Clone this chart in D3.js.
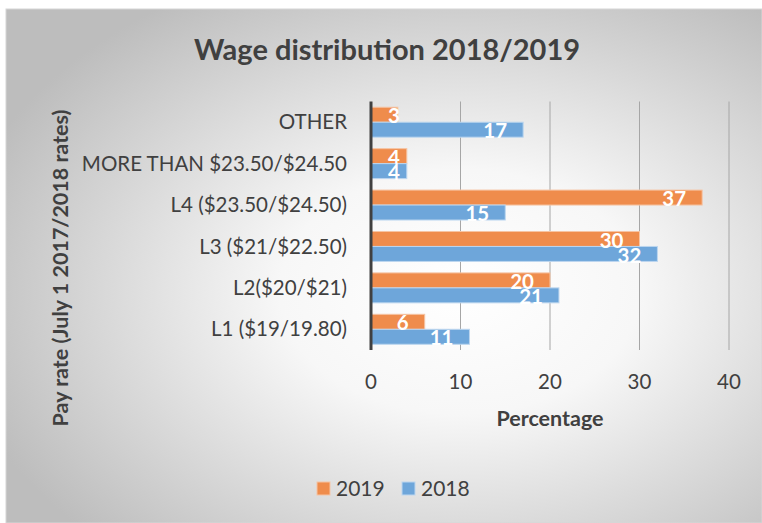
<!DOCTYPE html>
<html>
<head>
<meta charset="utf-8">
<script src="https://cdn.jsdelivr.net/npm/d3@7"></script>
<style>
  body { margin: 0; background: #fff; }
  svg { display: block; font-family: Lato, "Open Sans", sans-serif; }
</style>
</head>
<body>
<svg class="svg1" width="762" height="523"></svg>
<script>
var categories = ["OTHER", "MORE THAN $23.50/$24.50", "L4 ($23.50/$24.50)",
                  "L3 ($21/$22.50)", "L2($20/$21)", "L1 ($19/19.80)"];
var seriesNames = ["2019", "2018"];
var values2019 = [3, 4, 37, 30, 20, 6];
var values2018 = [17, 4, 15, 32, 21, 11];
var xTicks = [0, 10, 20, 30, 40];

var COLORS = { "2019": "#ef8c4c", "2018": "#6ea6da" };
var EDGES = { "2019": "#f6c4a3", "2018": "#bcd6ef" };

var svg1 = d3.select(".svg1");

// background with soft radial gradient
var defs = svg1.append("defs");
var grad = defs.append("radialGradient")
    .attr("id", "bg")
    .attr("cx", "60%").attr("cy", "55%").attr("r", "68%");
grad.append("stop").attr("offset", "0%").attr("stop-color", "#ffffff");
grad.append("stop").attr("offset", "35%").attr("stop-color", "#f7f7f7");
grad.append("stop").attr("offset", "100%").attr("stop-color", "#bdbdbd");

svg1.append("rect")
    .attr("x", 6).attr("y", 9)
    .attr("width", 756).attr("height", 514)
    .attr("fill", "url(#bg)")
    .attr("stroke", "#d6d6d6");

var scaleX = d3.scaleLinear().domain([0, 40]).range([371, 729]);
var scaleY = d3.scaleBand()
    .domain(categories)
    .range([101.5, 350])
    .paddingInner(0.277)
    .paddingOuter(0.1385);
var scaleSeries = d3.scaleBand()
    .domain(seriesNames)
    .range([0, scaleY.bandwidth()]);

// gridlines
svg1.append("g")
    .selectAll("line")
    .data(xTicks.slice(1))
    .enter()
    .append("line")
    .attr("x1", function(d) { return scaleX(d); })
    .attr("x2", function(d) { return scaleX(d); })
    .attr("y1", 101.5)
    .attr("y2", 350)
    .attr("stroke", "#a6a6a6")
    .attr("stroke-width", 1);

// tick labels
svg1.append("g")
    .selectAll("text")
    .data(xTicks)
    .enter()
    .append("text")
    .attr("x", function(d) { return scaleX(d); })
    .attr("y", 382)
    .attr("dy", "0.35em")
    .attr("text-anchor", "middle")
    .attr("fill", "#404040")
    .style("font-size", "20.5px")
    .text(function(d) { return d; });

// category labels
svg1.append("g")
    .selectAll("text")
    .data(categories)
    .enter()
    .append("text")
    .attr("x", 347)
    .attr("y", function(d) { return scaleY(d) + scaleY.bandwidth() / 2; })
    .attr("dy", "0.35em")
    .attr("text-anchor", "end")
    .attr("fill", "#404040")
    .style("font-size", "20.5px")
    .text(function(d) { return d; });

var rows = [];
categories.forEach(function(c, i) {
    rows.push({ cat: c, series: "2019", value: values2019[i] });
    rows.push({ cat: c, series: "2018", value: values2018[i] });
});

var bars = svg1.append("g");
bars.selectAll("rect")
    .data(rows)
    .enter()
    .append("rect")
    .attr("x", scaleX(0))
    .attr("y", function(d) { return scaleY(d.cat) + scaleSeries(d.series); })
    .attr("width", function(d) { return scaleX(d.value) - scaleX(0); })
    .attr("height", scaleSeries.bandwidth())
    .attr("fill", function(d) { return COLORS[d.series]; })
    .attr("stroke", function(d) { return EDGES[d.series]; })
    .attr("stroke-width", 1);

// value labels, inside end
bars.selectAll("text")
    .data(rows)
    .enter()
    .append("text")
    .attr("y", function(d) { return scaleY(d.cat) + scaleSeries(d.series) + scaleSeries.bandwidth() / 2 + 1.5; })
    .attr("dy", "0.35em")
    .attr("text-anchor", "end")
    .attr("fill", "#ffffff")
    .style("font-size", "20.5px")
    .style("font-weight", "bold")
    .text(function(d) { return d.value; })
    .attr("x", function(d) {
        var w = this.getComputedTextLength();
        return Math.max(scaleX(d.value) - 16, scaleX(0) + 17 + w);
    });

// axis line
svg1.append("line")
    .attr("x1", scaleX(0)).attr("x2", scaleX(0))
    .attr("y1", 101.5).attr("y2", 350)
    .attr("stroke", "#404040")
    .attr("stroke-width", 3);

// title
svg1.append("text")
    .attr("x", 387)
    .attr("y", 60)
    .attr("text-anchor", "middle")
    .attr("fill", "#404040")
    .style("font-size", "29px")
    .style("font-weight", "bold")
    .text("Wage distribution 2018/2019");

// axis titles
svg1.append("text")
    .attr("x", 550)
    .attr("y", 418)
    .attr("dy", "0.35em")
    .attr("text-anchor", "middle")
    .attr("fill", "#404040")
    .style("font-size", "21.5px")
    .style("font-weight", "bold")
    .text("Percentage");

svg1.append("text")
    .attr("transform", "translate(60,268) rotate(-90)")
    .attr("dy", "0.35em")
    .attr("text-anchor", "middle")
    .attr("fill", "#404040")
    .style("font-size", "21.5px")
    .style("font-weight", "bold")
    .text("Pay rate (July 1 2017/2018 rates)");

// legend
var legend = svg1.append("g")
    .selectAll("g")
    .data(seriesNames)
    .enter()
    .append("g")
    .attr("transform", function(d, i) { return "translate(" + (317 + i * 85) + ",482)"; });

legend.append("rect")
    .attr("width", 13).attr("height", 13)
    .attr("fill", function(d) { return COLORS[d]; })
    .attr("stroke", function(d) { return EDGES[d]; });

legend.append("text")
    .attr("x", 19)
    .attr("y", 7)
    .attr("dy", "0.35em")
    .attr("fill", "#404040")
    .style("font-size", "21px")
    .text(function(d) { return d; });
</script>
</body>
</html>
